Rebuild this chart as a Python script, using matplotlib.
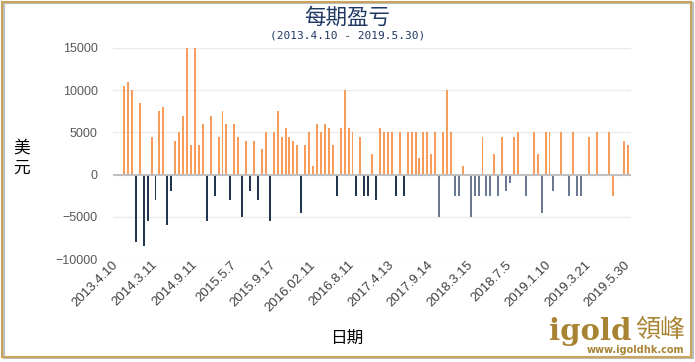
import numpy as np
import matplotlib.pyplot as plt
from matplotlib.patches import Rectangle

# Data (0 = tidak ada batang)
date_labels = ["2013.4.10", "2014.3.11", "2014.9.11", "2015.5.7", "2015.9.17",
               "2016.02.11", "2016.8.11", "2017.4.13", "2017.9.14", "2018.3.15",
               "2018.7.5", "2019.1.10", "2019.3.21", "2019.5.30"]
profit = [
    10500, 11000, 10000, -8000, 8500, -8500, -5500, 4500, -3000, 7500,
    8000, -6000, -2000, 4000, 5000, 7000, 15000, 3500, 15000, 3500,
    6000, -5500, 7000, -2500, 4500, 7500, 6000, -3000, 6000, 4500,
    -5000, 4000, -2000, 4000, -3000, 3000, 5000, -5500, 5000, 7500,
    4500, 5500, 4500, 4000, 3500, -4500, 3500, 5000, 1000, 6000,
    5000, 6000, 5500, 3500, -2500, 5500, 10000, 5500, 5000, -2500,
    4500, -2500, -2500, 2500, -3000, 5500, 5000, 5000, 5000, -2500,
    5000, -2500, 5000, 5000, 5000, 2000, 5000, 5000, 2500, 5000,
    -5000, 5000, 10000, 5000, -2500, -2500, 1000, 0, -5000, -2500,
    -2500, 4500, -2500, -2500, 2500, -2500, 4500, -2000, -1000, 4500,
    5000, 0, -2500, 0, 5000, 2500, -4500, 5000, 5000, -2000,
    0, 5000, 0, -2500, 5000, -2500, -2500, 0, 4500, 0,
    5000, 0, 0, 5000, -2500, 0, 0, 4000, 3500]
loss_split = 80          # dari periode ini kerugian berwarna abu-abu biru
orange_loss = [124]      # kerugian yang digambar oranye
label_step = 10

c_gain = "#F79C5A"
c_loss_a = "#22364F"
c_loss_b = "#6B7990"

x = np.arange(len(profit))
colors = []
for i, v in enumerate(profit):
    if v >= 0 or i in orange_loss:
        colors.append(c_gain)
    elif i < loss_split:
        colors.append(c_loss_a)
    else:
        colors.append(c_loss_b)

fig = plt.figure(figsize=(6.95, 3.62), dpi=100)
ax = fig.add_axes([113 / 695, 103 / 362, 518 / 695, 211 / 362])

ax.bar(x, profit, width=0.5, color=colors, zorder=2)
ax.axhline(0, color="#BFBFBF", lw=1.4, zorder=3)

ax.set_xlim(-2.79, 128.69)
ax.set_ylim(-10000, 15000)
ax.set_yticks([-10000, -5000, 0, 5000, 10000, 15000])
ax.grid(axis="y", color="#EBEBEB", lw=1, zorder=0)
for s in ax.spines.values():
    s.set_visible(False)
ax.tick_params(axis="y", length=0, pad=11, labelsize=9, labelcolor="#595959")
for t in ax.get_yticklabels():
    t.set_family("Liberation Sans")

tick_pos = np.arange(len(date_labels)) * label_step - 2
ax.set_xticks(tick_pos)
ax.set_xticklabels(date_labels, rotation=45, ha="right", va="center",
                   rotation_mode="anchor", family="Liberation Sans",
                   fontsize=9.5, color="#404040")
ax.tick_params(axis="x", length=0, pad=3)

cjk = ["Noto Sans CJK SC", "DejaVu Sans"]
fig.text(0.5, 1 - 18 / 362, "每期盈亏", ha="center", va="center",
         family=cjk, fontsize=15.5, color="#1F3864")
fig.text(0.5, 1 - 36 / 362, "(2013.4.10 - 2019.5.30)", ha="center", va="center",
         family="DejaVu Sans Mono", fontsize=8, color="#1F3864")
fig.text(22 / 695, 1 - 158 / 362, "美\n元", ha="center", va="center",
         family=cjk, fontsize=12, color="#000000", linespacing=1.25)
fig.text(347 / 695, 1 - 338 / 362, "日期", ha="center", va="center",
         family=cjk, fontsize=12, color="#000000")

# watermark
gold = "#A98334"
fig.text(549 / 695, 1 - 340 / 362, "igold", ha="left", va="baseline",
         family="DejaVu Serif", weight="bold", fontsize=21, color=gold)
fig.text(660 / 695, 1 - 330 / 362, "領峰", ha="center", va="center",
         family=["Noto Sans CJK TC"], weight="light", fontsize=18, color=gold)
fig.text(635 / 695, 1 - 350 / 362, "www.igoldhk.com", ha="center", va="center",
         family="DejaVu Sans", weight="bold", fontsize=7, color=gold)

# bingkai
fig.patches.append(Rectangle((4 / 695, 4 / 362), 689 / 695, 355 / 362,
                             transform=fig.transFigure, fill=False,
                             ec="#BDBDBD", lw=1.5, zorder=0))
fig.patches.append(Rectangle((2 / 695, 5 / 362), 689 / 695, 355 / 362,
                             transform=fig.transFigure, fill=False,
                             ec="#C9A45C", lw=1.5, zorder=1))

fig.savefig("out.png", dpi=100)
